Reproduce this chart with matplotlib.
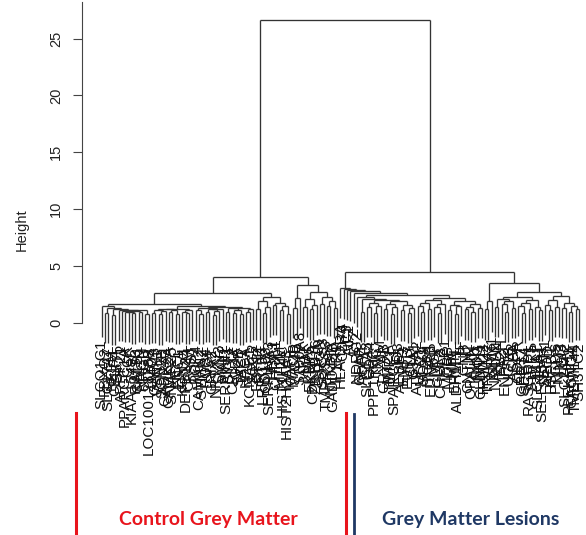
import numpy as np
import matplotlib.pyplot as plt
from matplotlib.lines import Line2D

## leaf labels, in dendrogram order
genes_control = ['SLCO1C1', 'FBXO2', 'SLC17A7', 'NEFH', 'CELF4', 'SYT5', 'ARPP21', 'PPARGC1A',
                 'CCK', 'KIAA1549L', 'RIMS3', 'CALB1', 'NRGN', 'CHGB', 'LOC100128288', 'LMO4',
                 'GAP43', 'VSNL1', 'SCN2B', 'GABRA1', 'CAMK2A', 'SNAP25', 'NEFL', 'ENC1', 'KCNV1',
                 'DEFB124', 'CRYM', 'SST', 'PCP4', 'CAMKK2', 'STMN2', 'RGS4', 'VGF', 'GRIA2',
                 'NPTX2', 'SYN2', 'MAL2', 'SERPINI1', 'SYT1', 'CPLX2', 'GDA', 'SV2B', 'TAC1',
                 'HPCA', 'KCNAB1', 'SCG2', 'FGF12', 'RTN1', 'LRRC55', 'CD163', 'SERPINA3', 'HBA1',
                 'CHI3L1', 'MT1M', 'HIST1H4C', 'HIST2H2AA3', 'MAFF', 'MAOB', 'C4B', 'S100A8',
                 'MT1X', 'MAL', 'FKBP5', 'CDKN1A', 'ZBTB16', 'SRGN', 'SOCS3', 'TMPRSS3', 'NFKBIA',
                 'GADD45B', 'IL1R1']
genes_lesion = ['HLA-DRA', 'CD74', 'C3', 'AIF1', 'LYZ', 'NDRG2', 'GFAP', 'AQP4', 'SLC1A3', 'CD44',
                'PPP1R3C', 'TNC', 'VIM', 'CRYAB', 'MT2A', 'TIMP1', 'SPARCL1', 'ID3', 'AEBP1',
                'EMP3', 'PURB', 'CLU', 'GJA1', 'ATP1A2', 'MLC1', 'SOX9', 'ITGB4', 'EDNRB', 'MGP',
                'GLRX', 'CHI3L2', 'PLP1', 'MOBP', 'MBP', 'ERMN', 'ALDH1L1', 'TF', 'CNP', 'CNTN2',
                'OPALIN', 'KLK6', 'MOG', 'CLDN11', 'TRIM22', 'TRAM2', 'NRN1', 'NR4A2', 'ANLN',
                'FA2H', 'ENPP2', 'UGT8', 'CA2', 'ASPA', 'QDPR', 'GPR37', 'SEPT4', 'RASGRP1',
                'S1PR5', 'PLLP', 'SLC44A1', 'SELENBP1', 'SEPP1', 'APOD', 'HSPB1', 'PTGDS', 'NINJ2',
                'LGI3', 'SLC24A2', 'PLEKHH1', 'CACNG4', 'TMEM144', 'SH3TC2']

## merge height between neighbouring leaves
gaps_control = [1.45, 0.9, 1.3, 0.7, 1.2, 1.1, 1.05, 0.95, 1.0, 0.85, 1.02, 0.98, 1.1, 0.8,
                1.65,
                0.9, 1.15, 0.75, 1.05, 1.2, 0.95, 1.1, 0.8, 1.25, 1.0, 0.85, 1.12,
                1.5,
                1.1, 0.8, 1.3, 0.95, 1.2, 0.7, 1.05, 1.25, 1.42, 1.0, 1.3, 0.9, 1.15, 0.75,
                1.35, 1.0, 1.2,
                2.6,
                1.2, 1.9, 0.9, 1.4, 2.3, 1.6, 1.8, 1.1, 1.5, 0.8,
                4.0,
                1.3, 2.2, 3.3, 1.4, 2.1, 1.2, 1.6, 2.7, 1.7, 2.3, 1.5, 1.9, 1.3]
root_height = 26.6
gaps_lesion = [3.1, 3.0, 2.9, 2.8, 2.65,
               2.3, 1.0, 2.1, 1.4, 1.8, 0.9, 1.5, 2.0, 1.2, 1.7, 0.8, 1.4, 1.9, 1.1, 1.6, 0.9, 1.3,
               2.5,
               1.5, 1.0, 1.8, 1.2, 2.0, 1.4, 0.9, 1.7, 2.2, 1.1, 1.6, 0.8, 1.5, 1.9, 1.2, 1.4,
               1.0, 1.7, 1.3,
               4.5,
               1.2, 1.9, 3.5,
               1.4, 2.1, 1.7, 1.0, 1.9, 1.3, 2.3, 1.5, 0.9, 1.8, 1.2, 2.0, 1.4, 1.1,
               2.7,
               1.6, 1.1, 2.0, 1.4, 2.4, 1.3, 1.8, 1.0, 1.5, 1.2]

labels = genes_control + genes_lesion
gaps = gaps_control + [root_height] + gaps_lesion
n = len(labels)
hang = 0.1 * max(gaps)

segs = []
leaf_bottom = {}

def build(lo, hi):
    # node over leaves lo..hi, split where neighbours merge highest
    if lo == hi:
        return lo, None
    k = lo + int(np.argmax(gaps[lo:hi]))
    h = gaps[k]
    xl, hl = build(lo, k)
    xr, hr = build(k + 1, hi)
    for x, hc in ((xl, hl), (xr, hr)):
        if hc is None:
            hc = h - hang
            leaf_bottom[x] = hc
        segs.append(([x, x], [hc, h]))
    segs.append(([xl, xr], [h, h]))
    return (xl + xr) / 2, h

build(0, n - 1)

W, H = 586, 535
fig = plt.figure(figsize=(W / 100, H / 100), dpi=100)
px_leaf = (579 - 101.7) / (n - 1)
px_unit = (323 - 38.5) / 25.0
ax = fig.add_axes([82 / W, 0, (W - 82) / W, 1])
ax.set_xlim(-(101.7 - 82) / px_leaf, (n - 1) + (W - 579) / px_leaf)
ax.set_ylim(-(H - 323) / px_unit, 323 / px_unit)

for xs, ys in segs:
    ax.plot(xs, ys, color='#333333', lw=0.95, solid_capstyle='butt')

for i, lab in enumerate(labels):
    ax.text(i, leaf_bottom[i] - 0.25, lab, rotation=90, ha='center', va='top',
            fontsize=11, family='Liberation Sans', color='#111111')

for s in ['top', 'right', 'bottom']:
    ax.spines[s].set_visible(False)
ax.spines['left'].set_bounds(0, 28.2)
ax.spines['left'].set_color('#444444')
ax.set_xticks([])
ax.set_yticks([0, 5, 10, 15, 20, 25])
ax.tick_params(axis='y', direction='out', length=6.5, width=0.8, pad=7, colors='#444444',
               labelcolor='#222222', labelsize=10.5, labelrotation=90)
for t in ax.get_yticklabels():
    t.set_family('Liberation Sans')
    t.set_va('center')

fig.text(22 / W, 1 - 230 / H, 'Height', rotation=90, ha='center', va='center',
         fontsize=10.5, family='Liberation Sans', color='#222222')

## group markers
red = '#E8141C'
navy = '#1F3864'
fig.add_artist(Line2D([76 / W, 76 / W], [0, 1 - 413 / H], color=red, lw=2.2))
fig.add_artist(Line2D([346 / W, 346 / W], [0, 1 - 413 / H], color=red, lw=2.2))
fig.add_artist(Line2D([354 / W, 354 / W], [0, 1 - 414 / H], color=navy, lw=2.0))
fig.text(208 / W, 1 - 520 / H, 'Control Grey Matter', color=red, ha='center', va='center',
         fontsize=14, fontweight='bold', family='Lato')
fig.text(471 / W, 1 - 520 / H, 'Grey Matter Lesions', color=navy, ha='center', va='center',
         fontsize=14, fontweight='bold', family='Lato')

plt.savefig('out.png', dpi=100)
